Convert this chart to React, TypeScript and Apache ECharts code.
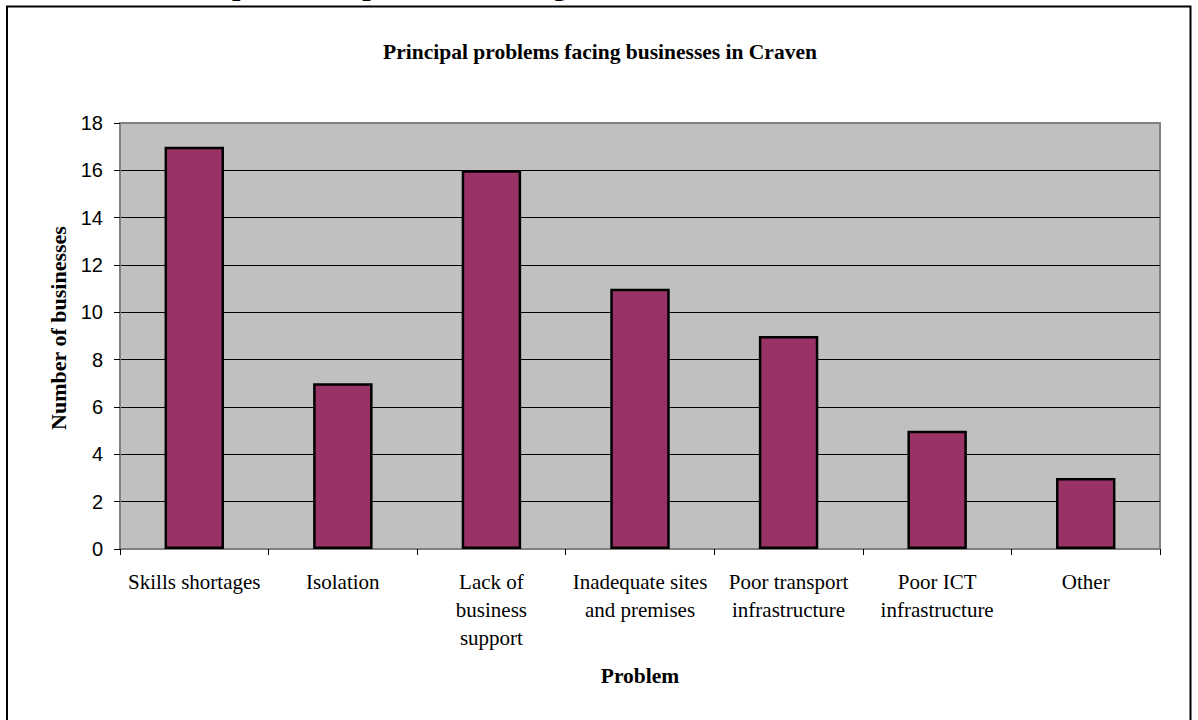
import React, { useEffect, useRef } from "react";
import * as echarts from "echarts";

// Survey results: number of businesses naming each principal problem
const problems: string[] = [
  "Skills shortages",
  "Isolation",
  "Lack of\nbusiness\nsupport",
  "Inadequate sites\nand premises",
  "Poor transport\ninfrastructure",
  "Poor ICT\ninfrastructure",
  "Other",
];
const businessCounts: number[] = [17, 7, 16, 11, 9, 5, 3];

const chartTitle = "Principal problems facing businesses in Craven";
const yAxisTitle = "Number of businesses";
const xAxisTitle = "Problem";
const pageHeading = "3.4 The perceived problems facing businesses in Craven";

const SERIF = "'Liberation Serif', 'Times New Roman', serif";
const SANS = "'Liberation Sans', Arial, sans-serif";

export default function App() {
  const ref = useRef<HTMLDivElement>(null);

  useEffect(() => {
    if (!ref.current) return;
    const chart = echarts.init(ref.current, undefined, { renderer: "svg" });
    chart.setOption({
      animation: false,
      backgroundColor: "#ffffff",
      grid: {
        left: 120,
        right: 38,
        top: 123,
        bottom: 171,
        show: true,
        backgroundColor: "#c0c0c0",
        borderColor: "#808080",
        borderWidth: 2,
      },
      xAxis: {
        type: "category",
        data: problems,
        axisLine: { show: true, lineStyle: { color: "#808080", width: 2 } },
        axisTick: { show: true, length: 6, alignWithLabel: false, lineStyle: { color: "#000" } },
        axisLabel: {
          interval: 0,
          margin: 19,
          fontFamily: SERIF,
          fontSize: 21,
          lineHeight: 28,
          color: "#000",
        },
        splitLine: { show: false },
      },
      yAxis: {
        type: "value",
        min: 0,
        max: 18,
        interval: 2,
        axisLine: { show: true, lineStyle: { color: "#808080", width: 2 } },
        axisTick: { show: true, length: 6, lineStyle: { color: "#000" } },
        axisLabel: {
          margin: 17,
          fontFamily: SANS,
          fontSize: 20,
          color: "#000",
        },
        splitLine: {
          show: true,
          showMinLine: false,
          showMaxLine: false,
          lineStyle: { color: "#000", width: 1 },
        },
      },
      series: [
        {
          type: "bar",
          data: businessCounts,
          barWidth: "40%",
          itemStyle: { color: "#993366", borderColor: "#000", borderWidth: 2.5 },
        },
      ],
      graphic: [
        {
          // page heading above the frame; only its descenders show
          type: "text",
          x: 130,
          y: -15.5,
          z: 1,
          style: {
            text: pageHeading,
            font: `bold 30px ${SERIF}`,
            fill: "#000",
            textAlign: "left",
            textVerticalAlign: "middle",
          },
        },
        {
          type: "rect",
          z: 10,
          shape: { x: 7, y: 6.5, width: 1183.5, height: 800 },
          style: { fill: "none", stroke: "#000", lineWidth: 2 },
        },
        {
          type: "text",
          x: 600,
          y: 52,
          style: {
            text: chartTitle,
            font: `bold 21.5px ${SERIF}`,
            fill: "#000",
            textAlign: "center",
            textVerticalAlign: "middle",
          },
        },
        {
          type: "text",
          x: 58,
          y: 328,
          rotation: Math.PI / 2,
          style: {
            text: yAxisTitle,
            font: `bold 22px ${SERIF}`,
            fill: "#000",
            textAlign: "center",
            textVerticalAlign: "middle",
          },
        },
        {
          type: "text",
          x: 640,
          y: 676,
          style: {
            text: xAxisTitle,
            font: `bold 21.5px ${SERIF}`,
            fill: "#000",
            textAlign: "center",
            textVerticalAlign: "middle",
          },
        },
      ],
    });
    return () => chart.dispose();
  }, []);

  return (
    <div
      ref={ref}
      style={{ position: "fixed", left: 0, top: 0, width: 1198, height: 720 }}
    />
  );
}
